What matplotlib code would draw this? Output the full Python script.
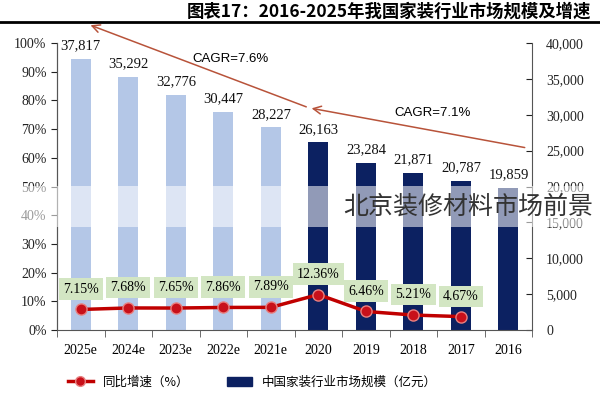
import numpy as np
import matplotlib
matplotlib.use("Agg")
import matplotlib.pyplot as plt
from matplotlib.patches import Rectangle
from matplotlib.lines import Line2D

plt.rcParams['font.family'] = ['Liberation Serif', 'Noto Sans CJK SC']
CJK = ['Noto Sans CJK SC', 'DejaVu Sans']

# data (chart is shown mirrored: newest year on the left)
years = ['2025e', '2024e', '2023e', '2022e', '2021e', '2020', '2019', '2018', '2017', '2016']
market_size = [37817, 35292, 32776, 30447, 28227, 26163, 23284, 21871, 20787, 19859]
is_forecast = [True, True, True, True, True, False, False, False, False, False]
growth = [7.15, 7.68, 7.65, 7.86, 7.89, 12.36, 6.46, 5.21, 4.67, np.nan]
growth_labels = ['7.15%', '7.68%', '7.65%', '7.86%', '7.89%', '12.36%', '6.46%', '5.21%', '4.67%', '']
cagr_texts = ['CAGR=7.6%', 'CAGR=7.1%']

light = '#b4c7e7'
navy = '#0c2161'
red = '#c00000'

fig = plt.figure(figsize=(6, 4), dpi=100)
ax = fig.add_axes([0.095, 0.175, 0.792, 0.7175])
axp = ax.twinx()
x = np.arange(len(years))
colors = [light if f else navy for f in is_forecast]
bars = ax.bar(x, market_size, width=0.42, color=colors, zorder=2)
ax.set_xlim(-0.5, len(years) - 0.5)
ax.set_ylim(0, 40000)
ax.yaxis.tick_right()
ax.set_yticks(np.arange(0, 40001, 5000))
ax.set_yticklabels([f'{v:,}' for v in range(0, 40001, 5000)], fontsize=10)
ax.tick_params(axis='y', direction='in', length=4, pad=10, colors='#222222')
ax.set_xticks(x)
ax.set_xticklabels(years, fontsize=10)
ax.set_xticks(np.arange(-0.5, len(years)), minor=True)
ax.tick_params(axis='x', which='major', length=0, pad=10)
ax.tick_params(axis='x', which='minor', length=5, color='#555555')
ax.spines['top'].set_visible(False)
for s in ['left', 'right', 'bottom']:
    ax.spines[s].set_color('#555555')

for xi, v in zip(x, market_size):
    ax.text(xi, v + 900, f'{v:,}', ha='center', va='bottom', fontsize=10.5, color='#111111')

# growth line on percent axis (left)
axp.yaxis.tick_left()
axp.set_ylim(0, 100)
axp.set_yticks(np.arange(0, 101, 10))
axp.set_yticklabels([f'{v}%' for v in range(0, 101, 10)], fontsize=10)
axp.tick_params(axis='y', direction='out', length=4, colors='#222222')
for s in ['top', 'right', 'bottom']:
    axp.spines[s].set_visible(False)
axp.spines['left'].set_color('#555555')
axp.plot(x, growth, color=red, lw=2.5, marker='o', markersize=8,
         markerfacecolor='#c8101a', markeredgecolor='#e88080', markeredgewidth=1, zorder=5)
for xi, g, lab in zip(x, growth, growth_labels):
    if lab:
        axp.annotate(lab, (xi, g), xytext=(0, 10), textcoords='offset points',
                     ha='center', va='bottom', fontsize=10,
                     bbox=dict(boxstyle='square,pad=0.3', fc='#d3e6c3', ec='none'), zorder=6)

# CAGR arrows
arrow_kw = dict(arrowstyle='->', color='#b8533a', lw=1.1, mutation_scale=14)
lift = 4800
ax.annotate('', xy=(0.15, market_size[0] + lift), xytext=(4.8, market_size[5] + lift),
            arrowprops=arrow_kw, annotation_clip=False)
ax.annotate('', xy=(4.8, market_size[5] + lift), xytext=(9.4, market_size[9] + lift + 700),
            arrowprops=arrow_kw, annotation_clip=False)
ax.text(3.15, 37800, cagr_texts[0], ha='center', va='center', fontsize=9.5, family='Liberation Sans')
ax.text(7.4, 30200, cagr_texts[1], ha='center', va='center', fontsize=9.5, family='Liberation Sans')

# title and rule
fig.text(0.985, 0.972, '图表17：2016-2025年我国家装行业市场规模及增速', ha='right', va='center',
         fontsize=12.5, fontweight='bold', family=CJK)
fig.add_artist(Line2D([0, 1], [0.945, 0.945], color='black', lw=2))

# legend
h_line = Line2D([], [], color=red, lw=2.5, marker='o', markersize=7, markerfacecolor='#c8101a',
                markeredgecolor='#e88080')
h_bar = Rectangle((0, 0), 1, 1, color=navy)
fig.legend([h_line, h_bar], ['同比增速（%）', '中国家装行业市场规模（亿元）'], loc='center',
           bbox_to_anchor=(0.42, 0.045), ncol=2, frameon=False, columnspacing=3,
           prop={'family': CJK, 'size': 9})

# watermark band
fig.add_artist(Rectangle((0, 0.4325), 1, 0.1025, transform=fig.transFigure,
                         facecolor='white', alpha=0.55, edgecolor='none', zorder=20))
fig.text(0.572, 0.4825, '北京装修材料市场前景', ha='left', va='center', fontsize=18,
         color='#333333', family=CJK, fontweight='light', zorder=21)

fig.savefig('out.png', dpi=100)
